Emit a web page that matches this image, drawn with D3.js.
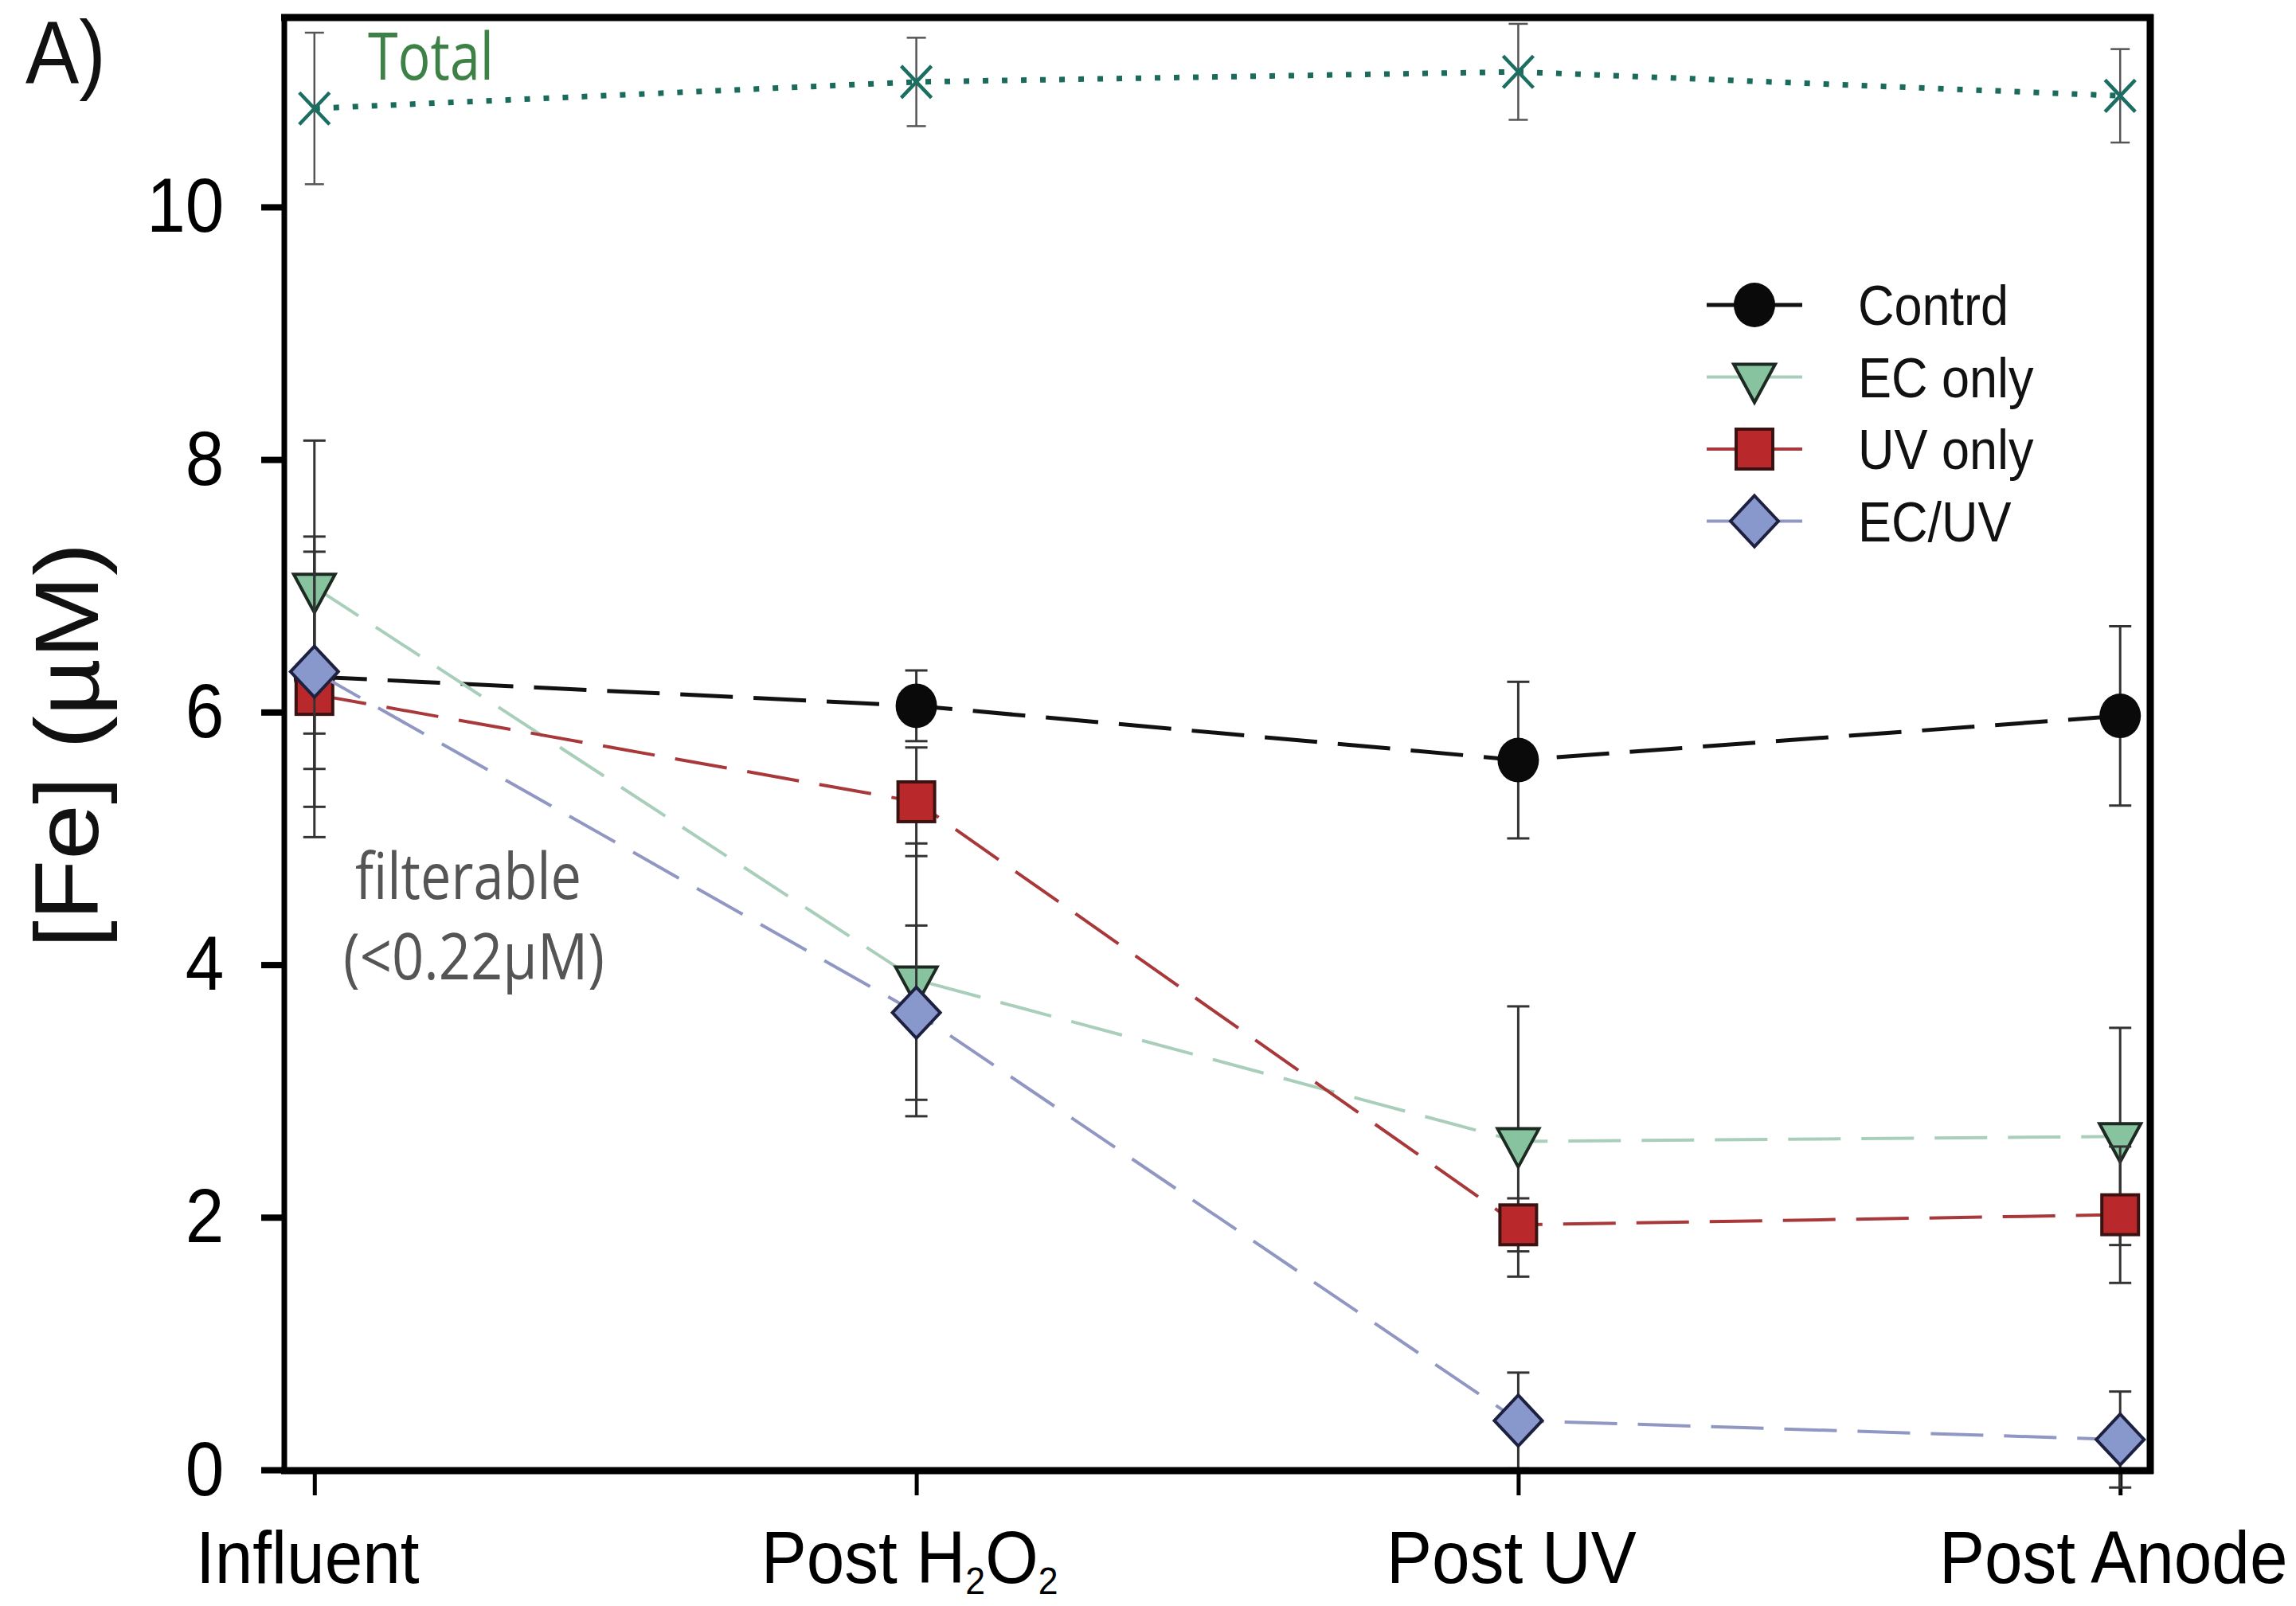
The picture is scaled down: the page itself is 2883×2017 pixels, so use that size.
<!DOCTYPE html>
<html><head><meta charset="utf-8">
<script src="https://cdn.jsdelivr.net/npm/d3@7"></script>
<style>body{margin:0;background:#fff;} svg{display:block;}</style>
</head><body><svg id="c" width="2883" height="2017"></svg>
<script>
// ---------- data ----------
const categories = ["Influent", "Post H2O2", "Post UV", "Post Anode"];
const seriesNames = ["Contrd", "EC only", "UV only", "EC/UV"];
const controlVals = [6.28, 6.05, 5.62, 5.97];
const controlErr  = [0.73, 0.28, 0.62, 0.71];
const ecOnlyVals  = [6.99, 3.88, 2.60, 2.64];
const ecOnlyErr   = [1.16, 1.08, 1.07, 0.86];
const uvOnlyVals  = [6.14, 5.29, 1.94, 2.02];
const uvOnlyErr   = [1.13, 0.43, 0.21, 0.54];
const ecUvVals    = [6.32, 3.62, 0.39, 0.24];
const ecUvErr     = [1.07, 0.69, 0.38, 0.38];
const totalVals   = [10.78, 10.99, 11.07, 10.88];
const totalErr    = [0.60, 0.35, 0.38, 0.37];
const yTicks = [0, 2, 4, 6, 8, 10];
const yTitle = "[Fe] (µM)";
const panelLabel = "A)";
const totalLabel = "Total";
const noteLines = ["filterable", "(<0.22µM)"];

// ---------- layout ----------
const W = 2883, H = 2017;
const L = 357, R = 2700, T = 22, B = 1846;
const SQ = 0.9; // horizontal squeeze of the original
const svg = d3.select("#c");

const x = d3.scalePoint().domain(categories).range([L, R]).padding(0.05);
const y = d3.scaleLinear().domain([0, 11.5]).range([B, T]);

const FONT = "'Liberation Sans', Arial, Helvetica, sans-serif";
const FONT2 = "'Open Sans', 'Noto Sans', sans-serif";

// ---------- axes ----------
const yAxis = svg.append("g").attr("transform", `translate(${L},0)`)
  .call(d3.axisLeft(y).tickValues(yTicks).tickSize(29).tickPadding(55).tickFormat(d3.format("d")));
yAxis.select(".domain").remove();
yAxis.selectAll(".tick line").attr("stroke", "#000").attr("stroke-width", 8);
yAxis.selectAll(".tick text").attr("font-family", FONT).attr("font-size", 97).attr("fill", "#000")
  .attr("transform", `scale(${SQ},1)`);

const xAxis = svg.append("g").attr("transform", `translate(0,${B})`)
  .call(d3.axisBottom(x).tickSize(32).tickPadding(45));
xAxis.select(".domain").remove();
xAxis.selectAll(".tick line").attr("stroke", "#000").attr("stroke-width", 5);
xAxis.selectAll(".tick text").attr("font-family", FONT).attr("font-size", 92).attr("fill", "#000")
  .attr("transform", `translate(-9,0) scale(0.93,1)`)
  .each(function(d) {
    if (d === "Post H2O2") {
      const t = d3.select(this); t.text(null);
      t.append("tspan").text("Post H");
      t.append("tspan").text("2").attr("font-size", 48).attr("dy", 14);
      t.append("tspan").text("O").attr("dy", -14);
      t.append("tspan").text("2").attr("font-size", 48).attr("dy", 14);
    }
  });

// ---------- series ----------
const series = [
  {name: seriesNames[0], vals: controlVals, err: controlErr, line: "#111", lw: 5, shape: "circle", fill: "#0a0a0a", stroke: "#0a0a0a"},
  {name: seriesNames[1], vals: ecOnlyVals, err: ecOnlyErr, line: "#a9cfba", lw: 4, shape: "triangle", fill: "#88c3a0", stroke: "#1d2a22"},
  {name: seriesNames[2], vals: uvOnlyVals, err: uvOnlyErr, line: "#a8383a", lw: 4, shape: "square", fill: "#b9292b", stroke: "#3a1212"},
  {name: seriesNames[3], vals: ecUvVals, err: ecUvErr, line: "#9097c2", lw: 4, shape: "diamond", fill: "#8898cc", stroke: "#1e2040"}
];

function drawMarker(g, shape, fill, stroke) {
  if (shape === "circle") g.append("ellipse").attr("rx", 26).attr("ry", 28).attr("fill", fill);
  else if (shape === "triangle") g.append("path").attr("d", "M-26,-16L26,-16L0,32Z").attr("fill", fill).attr("stroke", stroke).attr("stroke-width", 4).attr("stroke-linejoin", "miter");
  else if (shape === "square") g.append("rect").attr("x", -23).attr("y", -25).attr("width", 46).attr("height", 50).attr("fill", fill).attr("stroke", stroke).attr("stroke-width", 4);
  else if (shape === "diamond") g.append("path").attr("d", "M0,-32L30,0L0,32L-30,0Z").attr("fill", fill).attr("stroke", stroke).attr("stroke-width", 4);
}

function drawErr(g, vals, err, color, width, cap) {
  categories.forEach((c, i) => {
    const cx = x(c), y1 = y(vals[i] + err[i]), y2 = y(vals[i] - err[i]);
    g.append("line").attr("x1", cx).attr("x2", cx).attr("y1", y1).attr("y2", y2).attr("stroke", color).attr("stroke-width", width);
    [y1, y2].forEach(yy => g.append("line").attr("x1", cx - cap / 2).attr("x2", cx + cap / 2).attr("y1", yy).attr("y2", yy).attr("stroke", color).attr("stroke-width", width));
  });
}

const lineGen = d3.line().x((d, i) => x(categories[i])).y(d => y(d));

// Total series
const gt = svg.append("g");
drawErr(gt, totalVals, totalErr, "#555", 2.5, 24);
gt.append("path").attr("d", lineGen(totalVals)).attr("fill", "none").attr("stroke", "#1a6b5c")
  .attr("stroke-width", 7).attr("stroke-dasharray", "7 17");
totalVals.forEach((v, i) => {
  gt.append("path").attr("transform", `translate(${x(categories[i])},${y(v)})`)
    .attr("d", "M-19,-20L19,20M-19,20L19,-20").attr("stroke", "#1b6f62").attr("stroke-width", 4.5).attr("fill", "none");
});

// main series
series.forEach(s => {
  const g = svg.append("g");
  drawErr(g, s.vals, s.err, "#333", 3, 28);
  g.append("path").attr("d", lineGen(s.vals)).attr("fill", "none").attr("stroke", s.line)
    .attr("stroke-width", s.lw).attr("stroke-dasharray", "66 26");
  s.vals.forEach((v, i) => {
    const mg = g.append("g").attr("transform", `translate(${x(categories[i])},${y(v)})`);
    drawMarker(mg, s.shape, s.fill, s.stroke);
  });
});

// ---------- frame ----------
const fr = svg.append("g").attr("stroke", "#000");
fr.append("line").attr("x1", L).attr("x2", L).attr("y1", T - 4).attr("y2", B + 5).attr("stroke-width", 7);
fr.append("line").attr("x1", R).attr("x2", R).attr("y1", T - 4).attr("y2", B + 5).attr("stroke-width", 9);
fr.append("line").attr("x1", L - 4).attr("x2", R + 4).attr("y1", T).attr("y2", T).attr("stroke-width", 9);
fr.append("line").attr("x1", L - 4).attr("x2", R + 4).attr("y1", B + 1).attr("y2", B + 1).attr("stroke-width", 9);

// ---------- legend ----------
const lg = svg.append("g");
series.forEach((s, i) => {
  const ly = 383 + i * 90.5;
  lg.append("line").attr("x1", 2143).attr("x2", 2263).attr("y1", ly).attr("y2", ly)
    .attr("stroke", s.line).attr("stroke-width", s.lw);
  const mg = lg.append("g").attr("transform", `translate(2203,${ly})`);
  drawMarker(mg, s.shape, s.fill, s.stroke);
  lg.append("text").attr("transform", `translate(2333,${ly}) scale(${SQ},1)`).attr("dy", "0.36em")
    .attr("font-family", FONT).attr("font-size", 70).attr("fill", "#111").text(s.name);
});

// ---------- texts ----------
svg.append("text").attr("transform", `translate(32,104) scale(${SQ},1)`)
  .attr("font-family", FONT).attr("font-size", 112).attr("fill", "#111").text(panelLabel);

svg.append("text").attr("transform", `translate(123,936) scale(${SQ},1) rotate(-90)`)
  .attr("text-anchor", "middle").attr("font-family", FONT).attr("font-size", 125).attr("fill", "#111").text(yTitle);

svg.append("text").attr("x", 462).attr("y", 100).attr("font-family", FONT2).attr("font-size", 82)
  .attr("fill", "#3d8147").attr("textLength", 158).attr("lengthAdjust", "spacingAndGlyphs").text(totalLabel);

const noteW = [284, 328];
const noteX = [588, 595];
const noteY = [1129, 1230];
noteLines.forEach((t, i) => {
  svg.append("text").attr("x", noteX[i]).attr("y", noteY[i]).attr("text-anchor", "middle")
    .attr("font-family", FONT2).attr("font-size", 80).attr("fill", "#555")
    .attr("textLength", noteW[i]).attr("lengthAdjust", "spacingAndGlyphs").text(t);
});
</script>
</body></html>
